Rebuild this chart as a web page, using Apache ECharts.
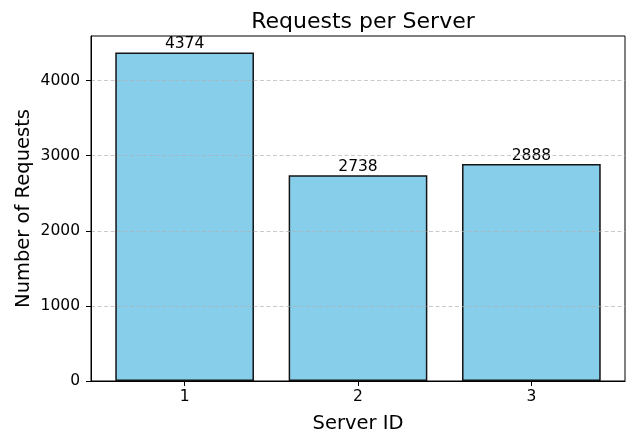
<!DOCTYPE html>
<html>
<head>
<meta charset="utf-8">
<script src="https://cdn.jsdelivr.net/npm/echarts@6/dist/echarts.min.js"></script>
<style>
  html, body { margin: 0; padding: 0; background: #fff; }
  #chart { width: 640px; height: 443px; }
</style>
</head>
<body>
<div id="chart"></div>
<script>
let serverIds = [1, 2, 3]; // 服务器编号
let requests = [4374, 2738, 2888]; // 每台服务器的请求数
let yTicks = [0, 1000, 2000, 3000, 4000];

let gridLeft = 91, gridRight = 15, gridTop = 36, gridBottom = 62;
let xMin = 0.46, xMax = 3.54;
let yMax = 4374 * 1.05;

let chart = echarts.init(document.getElementById('chart'));
let plotWidth = 640 - gridLeft - gridRight;
let barPx = 0.8 * plotWidth / (xMax - xMin);

let font = 'DejaVu Sans';

let option = {
    animation: false,
    title: {
        text: 'Requests per Server',
        left: gridLeft + plotWidth / 2,
        textAlign: 'center',
        top: 6,
        textStyle: { fontFamily: font, fontSize: 22, fontWeight: 'normal', color: '#000' }
    },
    grid: {
        left: gridLeft, right: gridRight, top: gridTop, bottom: gridBottom,
        show: true, borderColor: '#000', borderWidth: 1, backgroundColor: 'transparent'
    },
    xAxis: {
        type: 'value',
        min: xMin,
        max: xMax,
        z: 11,
        name: 'Server ID',
        nameLocation: 'middle',
        nameGap: 33,
        nameMoveOverlap: false,
        nameTextStyle: { fontFamily: font, fontSize: 19.5, color: '#000' },
        axisLine: { show: true, lineStyle: { color: '#000', width: 1 } },
        axisTick: { show: true, inside: false, length: 5, customValues: serverIds, lineStyle: { color: '#000' } },
        axisLabel: { customValues: serverIds, fontFamily: font, fontSize: 15.5, color: '#000', margin: 8, formatter: (v) => String(v) },
        splitLine: { show: false }
    },
    yAxis: {
        type: 'value',
        min: 0,
        max: yMax,
        interval: 1000,
        z: 10,
        name: 'Number of Requests',
        nameLocation: 'middle',
        nameGap: 57,
        nameMoveOverlap: false,
        nameTextStyle: { fontFamily: font, fontSize: 19.5, color: '#000' },
        axisLine: { show: true, lineStyle: { color: '#000', width: 1 } },
        axisTick: { show: true, inside: false, length: 5, customValues: yTicks, lineStyle: { color: '#000' } },
        axisLabel: { customValues: yTicks, fontFamily: font, fontSize: 15.5, color: '#000', margin: 11, formatter: (v) => String(v) },
        splitLine: { show: true, lineStyle: { color: 'rgba(176,176,176,0.75)', type: [4, 2.5], width: 0.9 } }
    },
    series: [
        {
            type: 'bar',
            data: serverIds.map((id, i) => [id, requests[i]]),
            barWidth: barPx,
            itemStyle: { color: '#87CEEB', borderColor: '#141414', borderWidth: 1.5 },
            label: {
                show: true,
                position: 'top',
                distance: 0,
                fontFamily: font,
                fontSize: 15.5,
                color: '#000',
                formatter: (p) => String(p.value[1])
            }
        }
    ]
};

chart.setOption(option);
</script>
</body>
</html>
